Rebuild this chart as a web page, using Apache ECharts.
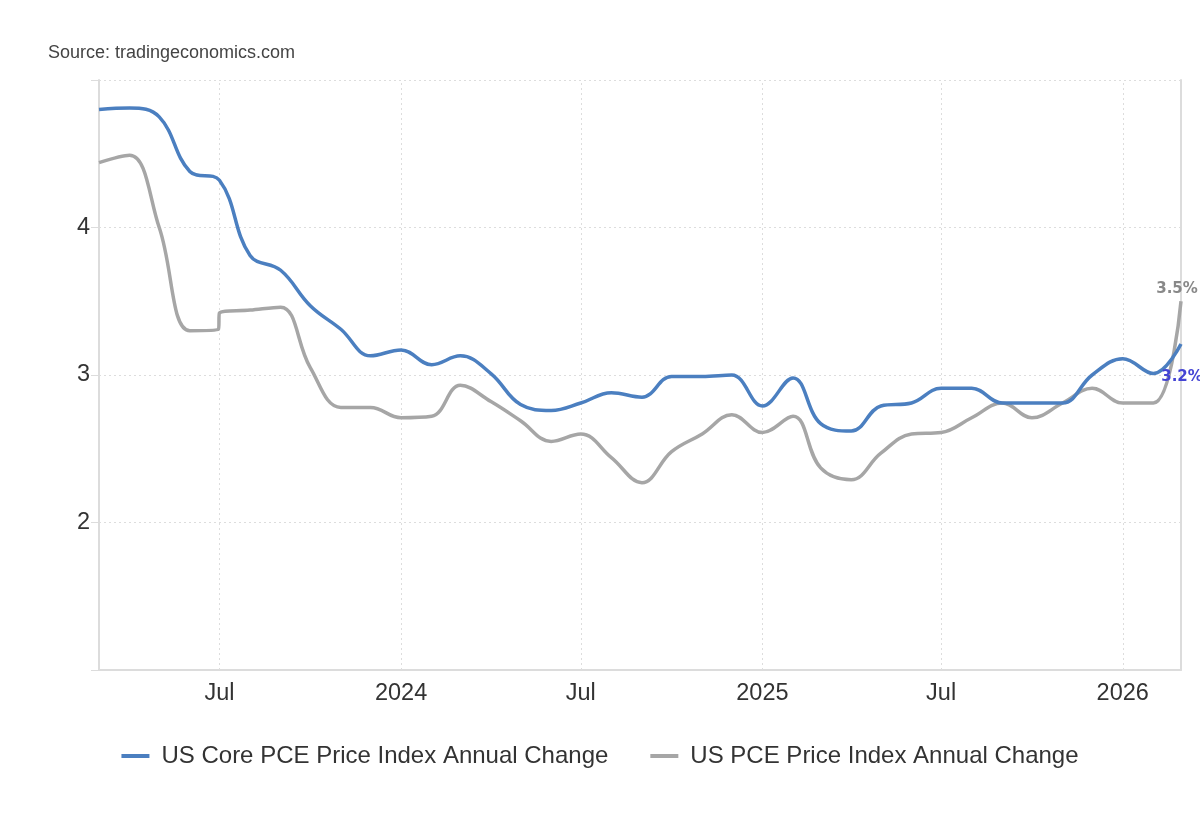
<!DOCTYPE html>
<html>
<head>
<meta charset="utf-8">
<title>US PCE</title>
<script src="https://cdn.jsdelivr.net/npm/echarts@6/dist/echarts.min.js"></script>
<style>
  html, body { margin: 0; padding: 0; background: #fff; }
  #chart { width: 1200px; height: 820px; }
</style>
</head>
<body>
<div id="chart"></div>
<script>
// monthly points, Mar 2023 .. Mar 2026
const months = [
  "2023-03-01", "2023-04-01", "2023-05-01", "2023-06-01", "2023-07-01", "2023-08-01",
  "2023-09-01", "2023-10-01", "2023-11-01", "2023-12-01", "2024-01-01", "2024-02-01",
  "2024-03-01", "2024-04-01", "2024-05-01", "2024-06-01", "2024-07-01", "2024-08-01",
  "2024-09-01", "2024-10-01", "2024-11-01", "2024-12-01", "2025-01-01", "2025-02-01",
  "2025-03-01", "2025-04-01", "2025-05-01", "2025-06-01", "2025-07-01", "2025-08-01",
  "2025-09-01", "2025-10-01", "2025-11-01", "2025-12-01", "2026-01-01", "2026-02-01",
  "2026-03-01"
];
const coreValues = [
  4.80, 4.81, 4.75, 4.38, 4.32, 3.81, 3.71, 3.47, 3.31, 3.13, 3.17, 3.07,
  3.13, 3.01, 2.80, 2.76, 2.81, 2.88, 2.85, 2.99, 2.99, 3.00, 2.79, 2.98,
  2.67, 2.62, 2.79, 2.81, 2.91, 2.91, 2.81, 2.81, 2.81, 3.00, 3.11, 3.01,
  3.21
];
const pceValues = [
  4.44, 4.49, 4.00, 3.30, 3.42, 3.44, 3.46, 3.05, 2.78, 2.78, 2.71, 2.72,
  2.93, 2.82, 2.69, 2.55, 2.60, 2.44, 2.27, 2.48, 2.60, 2.73, 2.61, 2.72,
  2.37, 2.29, 2.47, 2.60, 2.61, 2.71, 2.81, 2.71, 2.81, 2.91, 2.81, 2.81,
  3.50
];
// headline series has an extra reading just before the July 2023 jump
const pceStepDate = "2023-06-30";
const pceStepValue = 3.31;

const tickDates = ["2023-07-01", "2024-01-01", "2024-07-01", "2025-01-01", "2025-07-01", "2026-01-01"];
const yTicks = [2, 3, 4];

const coreName = "US Core PCE Price Index Annual Change";
const pceName = "US PCE Price Index Annual Change";

const blue = "#4b7fc0";
const grey = "#a6a6a6";

const ts = d => Date.parse(d);
const tickTs = tickDates.map(ts);

const coreData = months.map((d, i) => [ts(d), coreValues[i]]);
let pceData = months.map((d, i) => [ts(d), pceValues[i]]);
pceData.splice(4, 0, [ts(pceStepDate), pceStepValue]);

const dotted = { color: "#dddddd", type: [2, 3], width: 1 };

function endLbl(color, off) {
  return {
    show: true, distance: 0, offset: off,
    align: "center", verticalAlign: "middle",
    formatter: p => p.value[1].toFixed(1) + "%",
    color: color, fontWeight: "bold", fontSize: 15,
    fontFamily: "DejaVu Sans"
  };
}

const chart = echarts.init(document.getElementById("chart"));
chart.setOption({
  animation: false,
  backgroundColor: "#fff",
  textStyle: { fontFamily: "Liberation Sans, Arial, sans-serif" },
  title: {
    text: "Source: tradingeconomics.com",
    left: 43, top: 39,
    textStyle: { fontSize: 18, fontWeight: "normal", color: "#444" }
  },
  grid: { left: 99, right: 19, top: 80, bottom: 150 },
  legend: {
    bottom: 47, left: "center",
    icon: "rect", itemWidth: 28, itemHeight: 4, itemGap: 42,
    textStyle: { fontSize: 24, color: "#333", padding: [0, 0, 0, 7] },
    data: [coreName, pceName]
  },
  xAxis: {
    type: "value",
    min: ts(months[0]),
    max: ts(months[months.length - 1]),
    axisLine: { lineStyle: { color: "#dcdcdc", width: 2 } },
    axisTick: { show: false, customValues: tickTs },
    axisLabel: {
      customValues: tickTs,
      fontSize: 23.5, color: "#333", margin: 12,
      formatter: v => {
        const d = new Date(v);
        return d.getUTCMonth() === 0 ? String(d.getUTCFullYear()) : "Jul";
      }
    },
    splitLine: { show: false }
  },
  yAxis: [{
    type: "value",
    min: 1, max: 5, interval: 1,
    axisLine: { show: true, lineStyle: { color: "#dcdcdc", width: 2 } },
    axisTick: { show: true, length: 8, lineStyle: { color: "#dcdcdc", width: 1 } },
    axisLabel: {
      fontSize: 23.5, color: "#333", margin: 9,
      formatter: v => (yTicks.includes(v) ? String(v) : "")
    },
    splitLine: { show: true, lineStyle: dotted }
  }, {
    type: "value",
    position: "right",
    min: 1, max: 5, interval: 1,
    axisLine: { show: true, lineStyle: { color: "#dcdcdc", width: 2 } },
    axisTick: { show: false },
    axisLabel: { show: false },
    splitLine: { show: false }
  }],
  series: [
    {
      // vertical grid lines at the half-year ticks, kept under the data lines
      name: "grid", type: "line", data: [], z: 1, silent: true,
      markLine: {
        silent: true, symbol: "none", label: { show: false }, z: 1,
        lineStyle: dotted,
        data: tickTs.map(t => ({ xAxis: t }))
      }
    },
    {
      name: pceName, type: "line", data: pceData,
      smooth: 0.4, showSymbol: false, symbol: "none",
      lineStyle: { color: grey, width: 3.5 }, itemStyle: { color: grey },
      endLabel: endLbl("#888888", [-4, -12]),
      z: 2
    },
    {
      name: coreName, type: "line", data: coreData,
      smooth: 0.4, showSymbol: false, symbol: "none",
      lineStyle: { color: blue, width: 3.5 }, itemStyle: { color: blue },
      endLabel: endLbl("#4444d4", [1, 33]),
      z: 3
    }
  ]
});
</script>
</body>
</html>
